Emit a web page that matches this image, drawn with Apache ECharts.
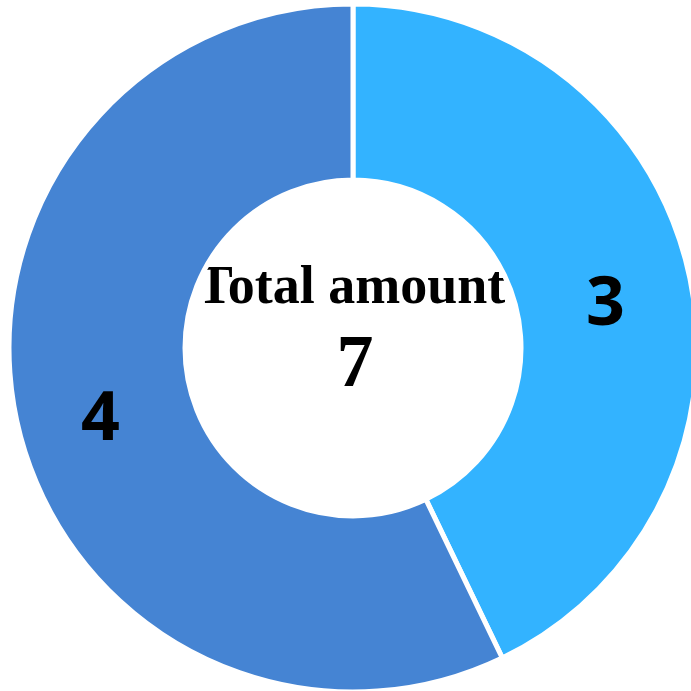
<!DOCTYPE html>
<html>
<head>
<meta charset="utf-8">
<script src="https://cdn.jsdelivr.net/npm/echarts@6/dist/echarts.min.js"></script>
<style>html,body{margin:0;padding:0;background:#fff;}#c{width:691px;height:691px;}</style>
</head>
<body>
<div id="c"></div>
<script>
var categories = ['A', 'B'];
var values = [3, 4];
var colors = ['#33B3FF', '#4584D3'];
var centerTitle = 'Total amount';

var total = values.reduce(function(a, b){ return a + b; }, 0);
var chart = echarts.init(document.getElementById('c'));
chart.setOption({
  animation: false,
  backgroundColor: '#ffffff',
  color: colors,
  series: [{
    type: 'pie',
    center: [353, 348],
    radius: [168, 344],
    startAngle: 90,
    clockwise: true,
    itemStyle: { borderColor: '#ffffff', borderWidth: 5 },
    label: {
      show: true,
      position: 'inside',
      formatter: '{c}',
      color: '#000000',
      fontFamily: 'Open Sans',
      fontWeight: 'bold',
      fontSize: 68,
      offset: [0, 15]
    },
    labelLine: { show: false },
    data: categories.map(function(c, i){ return { name: c, value: values[i] }; })
  }],
  graphic: [
    { type: 'text', x: 351, y: 289, style: { text: centerTitle, textAlign: 'center', textVerticalAlign: 'middle', font: 'bold 54px "Liberation Serif"', fill: '#000' } },
    { type: 'text', x: 355, y: 367, style: { text: String(total), textAlign: 'center', textVerticalAlign: 'middle', font: 'bold 74px "Liberation Serif"', fill: '#000' } }
  ]
});
</script>
</body>
</html>
